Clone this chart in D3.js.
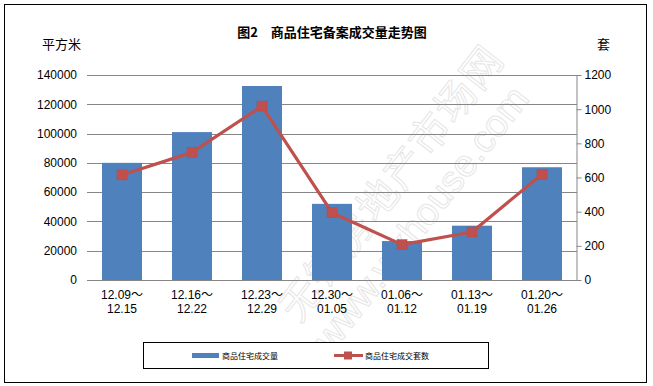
<!DOCTYPE html>
<html><head><meta charset="utf-8">
<script src="https://cdn.jsdelivr.net/npm/d3@7"></script>
<style>
body{margin:0;background:#fff;}
text{font-family:"Liberation Sans","Noto Sans CJK SC",sans-serif;}
.cjk{font-family:"Noto Sans CJK SC",sans-serif;}
</style></head>
<body><svg id="c" width="653" height="386"></svg>
<script>
const categories = ["12.09～|12.15","12.16～|12.22","12.23～|12.29","12.30～|01.05","01.06～|01.12","01.13～|01.19","01.20～|01.26"];
const areaValues = [80000, 101000, 132500, 52000, 26600, 37100, 77000];
const unitValues = [615, 747, 1018, 394, 207, 281, 619];
const leftTicks = [0,20000,40000,60000,80000,100000,120000,140000];
const rightTicks = [0,200,400,600,800,1000,1200];
const seriesNames = ["商品住宅成交量","商品住宅成交套数"];
const title = "图2　商品住宅备案成交量走势图";

const svg = d3.select("#c");
const L=87, R=577, T=75, B=280;
const x = d3.scaleBand().domain(categories).range([L,R]).paddingInner(3/7).paddingOuter(1.5/7);
const yL = d3.scaleLinear().domain([0,140000]).range([B,T]);
const yR = d3.scaleLinear().domain([0,1200]).range([B,T]);

svg.append("rect").attr("x",4.5).attr("y",4.5).attr("width",642).attr("height",378)
  .attr("fill","#fff").attr("stroke","#000").attr("stroke-width",1);

// watermark
const wm = svg.append("g").attr("transform","translate(420,205) rotate(-52)");
wm.append("text").attr("class","cjk").attr("x",0).attr("y",-22).attr("text-anchor","middle")
  .attr("font-size",40).attr("fill","none").attr("stroke","#e6e6e6").attr("stroke-width",1)
  .attr("letter-spacing",2).text("无锡房地产市场网");
wm.append("text").attr("x",-10).attr("y",22).attr("text-anchor","middle")
  .attr("font-size",38).attr("fill","none").attr("stroke","#e6e6e6").attr("stroke-width",1)
  .text("www.wxhouse.com");

// gridlines
svg.append("g").selectAll("line").data(leftTicks).join("line")
  .attr("x1",L).attr("x2",R).attr("y1",d=>Math.round(yL(d))+0.5).attr("y2",d=>Math.round(yL(d))+0.5)
  .attr("stroke","#868686").attr("stroke-width",1);

// left axis
const axL = svg.append("g").attr("transform",`translate(${L},0)`)
  .call(d3.axisLeft(yL).tickValues(leftTicks).tickFormat(d3.format("d")).tickSize(0).tickPadding(10));
axL.select(".domain").remove();
axL.selectAll("text").attr("font-size",12).attr("fill","#000");

// right axis
const axR = svg.append("g").attr("transform",`translate(${R-0.5},0)`)
  .call(d3.axisRight(yR).tickValues(rightTicks).tickFormat(d3.format("d")).tickSize(5).tickPadding(3).tickSizeOuter(0));
axR.select(".domain").attr("stroke","#868686");
axR.selectAll(".tick line").attr("stroke","#868686");
axR.selectAll("text").attr("font-size",12).attr("fill","#000");

// bars
svg.append("g").selectAll("rect").data(areaValues).join("rect")
  .attr("x",(d,i)=>x(categories[i])).attr("width",x.bandwidth())
  .attr("y",d=>yL(d)).attr("height",d=>B-yL(d)).attr("fill","#4F81BD");

// line
const cx = i => x(categories[i]) + x.bandwidth()/2;
svg.append("path").datum(unitValues)
  .attr("d", d3.line().x((d,i)=>cx(i)).y(d=>yR(d)))
  .attr("fill","none").attr("stroke","#C0504D").attr("stroke-width",3.2).attr("stroke-linejoin","round");
svg.append("g").selectAll("rect").data(unitValues).join("rect")
  .attr("x",(d,i)=>cx(i)-5).attr("y",d=>yR(d)-5).attr("width",10).attr("height",10)
  .attr("fill","#C0504D").attr("stroke","#B84A47").attr("stroke-width",0.5);

// x labels
const xl = svg.append("g");
categories.forEach((c,i)=>{
  const parts = c.split("|");
  const t = xl.append("text").attr("x",cx(i)).attr("text-anchor","middle").attr("font-size",12).attr("fill","#000");
  t.append("tspan").attr("x",cx(i)).attr("y",299).text(parts[0]);
  t.append("tspan").attr("x",cx(i)).attr("y",313).text(parts[1]);
});

// titles
svg.append("text").attr("class","cjk").attr("x",332).attr("y",37).attr("text-anchor","middle")
  .attr("font-size",13).attr("font-weight","bold").attr("fill","#000").text(title);
svg.append("text").attr("class","cjk").attr("x",42).attr("y",49).attr("font-size",13).attr("fill","#000").text("平方米");
svg.append("text").attr("class","cjk").attr("x",597).attr("y",49).attr("font-size",13).attr("fill","#000").text("套");

// legend
svg.append("rect").attr("x",143.5).attr("y",342.5).attr("width",345).attr("height",26)
  .attr("fill","#fff").attr("stroke","#000").attr("stroke-width",1);
svg.append("rect").attr("x",192).attr("y",353).attr("width",27).attr("height",5).attr("fill","#4F81BD");
svg.append("text").attr("class","cjk").attr("x",222).attr("y",359).attr("font-size",8).attr("fill","#000").text(seriesNames[0]);
svg.append("line").attr("x1",334).attr("x2",363).attr("y1",355.5).attr("y2",355.5).attr("stroke","#C0504D").attr("stroke-width",3);
svg.append("rect").attr("x",344).attr("y",351.5).attr("width",8).attr("height",8).attr("fill","#C0504D");
svg.append("text").attr("class","cjk").attr("x",365).attr("y",359).attr("font-size",8).attr("fill","#000").text(seriesNames[1]);
</script></body></html>
